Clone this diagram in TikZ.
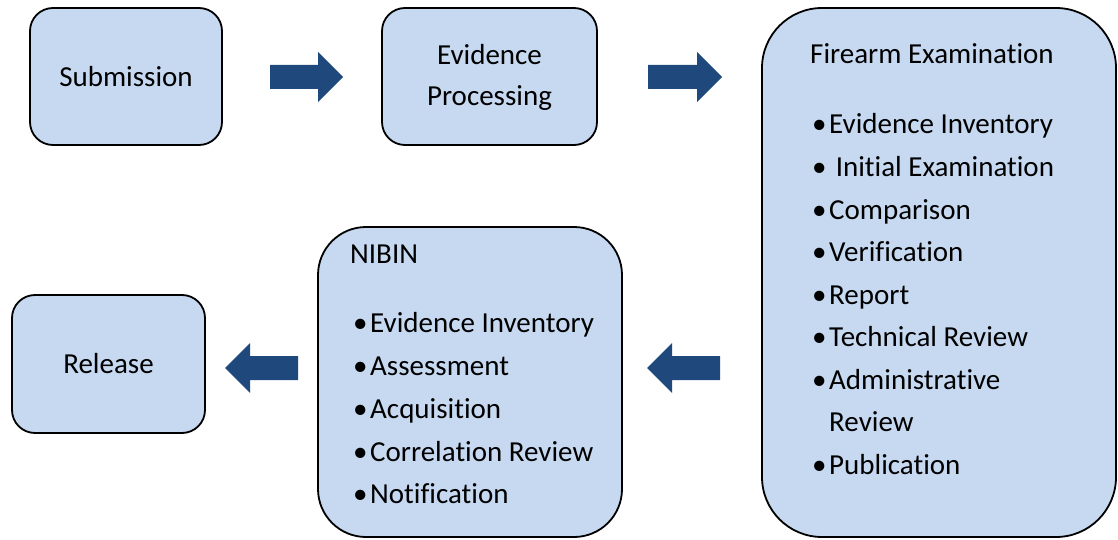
\documentclass[tikz,border=0pt]{standalone}
\usepackage{fontspec}
\setmainfont{Carlito}[Ligatures={NoCommon}]
\definecolor{boxfill}{HTML}{C6D9F1}
\definecolor{arrowblue}{HTML}{1F497D}
\tikzset{
  box/.style={draw=black, line width=1.8pt, fill=boxfill, inner sep=0pt},
  txt/.style={inner sep=0pt, font=\fontsize{29}{41}\selectfont},
  itm/.style={txt, anchor=base west},
  blockarrow/.style={fill=arrowblue, draw=none},
}
\newcommand{\bitem}[1]{\makebox[17pt][l]{\textbullet}#1}
\begin{document}
\begin{tikzpicture}[x=1pt,y=-1pt]
\useasboundingbox (0,0) rectangle (1118,540);
% boxes
\draw[box, rounded corners=23pt] (30,8) rectangle (222,145);
\node[txt] (sub) at (126,76.5) {Submission};
\draw[box, rounded corners=23pt] (382,8) rectangle (597,145);
\node[txt, align=center] (ep) at (489.5,77) {Evidence\\Processing};
\draw[box, rounded corners=60pt] (762,8) rectangle (1116,537);
\node[itm] (fat) at (810,64) {Firearm Examination};
\node[itm] (fa1) at (812,134) {\bitem{Evidence Inventory}};
\node[itm] (fa2) at (812,176.5) {\bitem{\ Initial Examination}};
\node[itm] (fa3) at (812,219) {\bitem{Comparison}};
\node[itm] (fa4) at (812,261.5) {\bitem{Verification}};
\node[itm] (fa5) at (812,304) {\bitem{Report}};
\node[itm] (fa6) at (812,346.5) {\bitem{Technical Review}};
\node[itm] (fa7) at (812,389) {\bitem{Administrative}};
\node[itm] (fa8) at (829,431.5) {Review};
\node[itm] (fa9) at (812,474) {\bitem{Publication}};
\draw[box, rounded corners=48pt] (318,227) rectangle (622,537);
\node[itm] (nt) at (350,263) {NIBIN};
\node[itm] (n1) at (353,332) {\bitem{Evidence Inventory}};
\node[itm] (n2) at (353,375) {\bitem{Assessment}};
\node[itm] (n3) at (353,418) {\bitem{Acquisition}};
\node[itm] (n4) at (353,461) {\bitem{Correlation Review}};
\node[itm] (n5) at (353,503) {\bitem{Notification}};
\draw[box, rounded corners=23pt] (12,295) rectangle (205,433);
\node[txt] (rel) at (108.5,364) {Release};
% block arrows
\fill[blockarrow] (270,65)--(318,65)--(318,52)--(343,77)--(318,102)--(318,89)--(270,89)--cycle;
\fill[blockarrow] (648,65)--(697,65)--(697,52)--(722,77)--(697,102)--(697,89)--(648,89)--cycle;
\fill[blockarrow] (720,356)--(672,356)--(672,343)--(647,368)--(672,393)--(672,380)--(720,380)--cycle;
\fill[blockarrow] (298,356)--(250,356)--(250,343)--(225,368)--(250,393)--(250,380)--(298,380)--cycle;
\end{tikzpicture}
\end{document}
